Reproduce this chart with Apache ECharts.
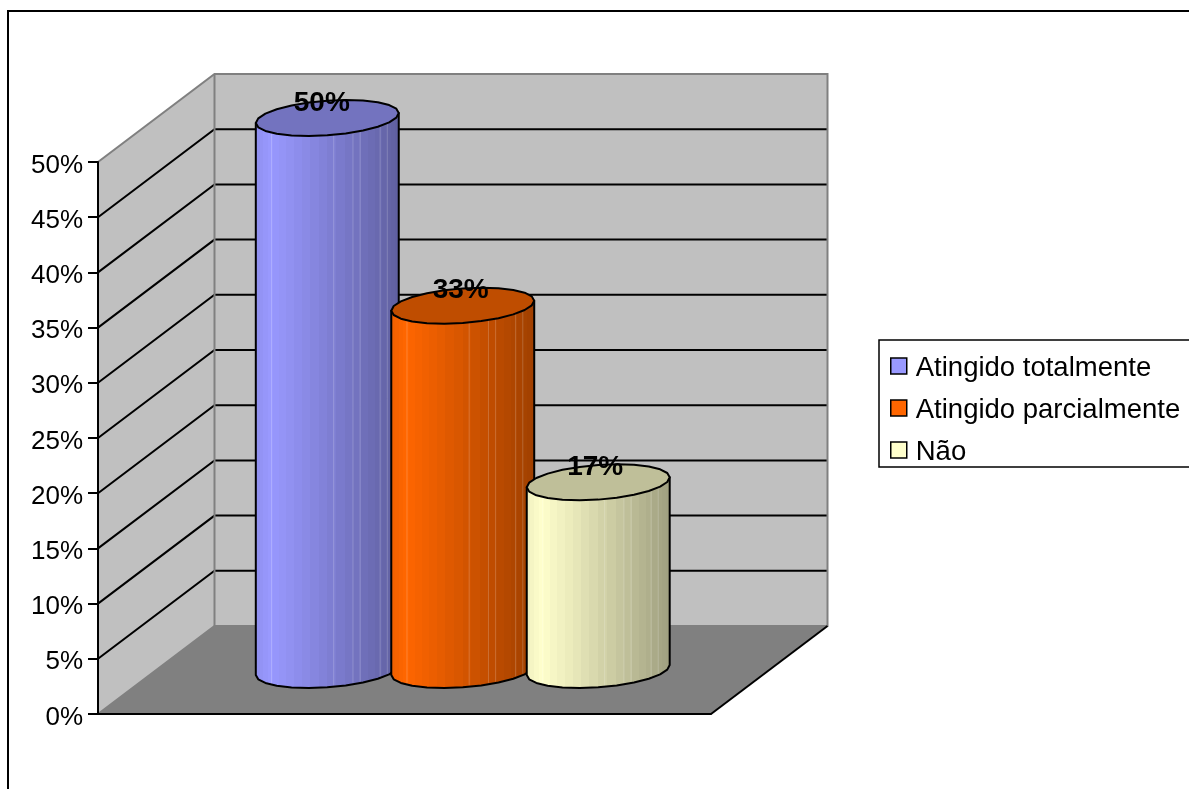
<!DOCTYPE html>
<html>
<head>
<meta charset="utf-8">
<style>
  html, body { margin: 0; padding: 0; background: #fff; overflow: hidden; }
  #chart { width: 1189px; height: 789px; }
</style>
<script src="https://cdn.jsdelivr.net/npm/echarts@6/dist/echarts.min.js"></script>
</head>
<body>
<div id="chart"></div>
<script>
// Chart values
const seriesNames = ['Atingido totalmente', 'Atingido parcialmente', 'Não'];
const seriesValues = [50, 33, 17];
const seriesColors = ['#9999FF', '#FF6600', '#FFFFCC'];
const axisMax = 50;
const axisStep = 5;
const gridValues = [5, 10, 15, 20, 25, 30, 35, 40, 45];
const categories = [''];

// Oblique projection of the 3D box, in pixels
const DEPTH_X = 116.5;
const DEPTH_Y = -88;
const MID_DEPTH_X = 58.25;
const MID_DEPTH_Y = -44;
const CAP_TILT = 5;
const CAP_HALF_HEIGHT = 17.3;
const BAR_SPACING = 0.221;   // share of the category band between bar centres
const BAR_RADIUS = 0.1166;   // share of the category band
const FACETS = 26;
const OUTLINE_STEPS = 12;    // the round edges are drawn as coarse polygons
const SEAMS = [0.11, 0.545, 0.68, 0.73, 0.87, 0.92];   // bright joins between wall facets
const LABEL_SHIFT = [-5.5, -2, -3];

const FONT = '"Liberation Sans", Arial, sans-serif';

function scaleColor(hex, k) {
  const n = parseInt(hex.slice(1), 16);
  const c = [(n >> 16) & 255, (n >> 8) & 255, n & 255].map(function (v) {
    return Math.round(v * k);
  });
  return 'rgb(' + c.join(',') + ')';
}

// Brightness across the cylinder, u = 0 at the left edge and 1 at the right
function shadeAt(u) {
  return u < 0.1 ? 0.93 + 0.7 * u : 1 - 0.38 * Math.pow((u - 0.1) / 0.9, 1.05);
}

// Hard-edged stops give the facets of the cylinder wall
function facetFill(color) {
  const stops = [];
  for (let i = 0; i < FACETS; i++) {
    const a0 = Math.PI * (1 - i / FACETS);
    const a1 = Math.PI * (1 - (i + 1) / FACETS);
    const u0 = (1 + Math.cos(a0)) / 2;
    const u1 = (1 + Math.cos(a1)) / 2;
    const c = scaleColor(color, shadeAt((u0 + u1) / 2));
    stops.push({ offset: u0, color: c }, { offset: u1, color: c });
  }
  return { type: 'linear', x: 0, y: 0, x2: 1, y2: 0, colorStops: stops };
}

function capPoint(cx, cy, a, t) {
  return [
    cx + a * Math.cos(t),
    cy - CAP_TILT * Math.cos(t) + CAP_HALF_HEIGHT * Math.sin(t)
  ];
}

function renderScene(params, api) {
  const origin = api.coord([0, 0]);
  const top = api.coord([0, axisMax]);
  const band = api.size([1, 0])[0];
  const x0 = origin[0] - band / 2;
  const x1 = origin[0] + band / 2;
  const y0 = origin[1];
  const y1 = top[1];
  const back = function (x, y) { return [x + DEPTH_X, y + DEPTH_Y]; };
  const children = [
    {
      type: 'polygon',
      shape: { points: [[x0, y1], back(x0, y1), back(x0, y0), [x0, y0]] },
      style: { fill: '#C0C0C0' }
    },
    {
      type: 'polygon',
      shape: { points: [back(x0, y1), back(x1, y1), back(x1, y0), back(x0, y0)] },
      style: { fill: '#C0C0C0' }
    },
    {
      type: 'polygon',
      shape: { points: [[x0, y0], [x1, y0], back(x1, y0), back(x0, y0)] },
      style: { fill: '#808080' }
    }
  ];
  gridValues.forEach(function (v) {
    const y = api.coord([0, v])[1];
    children.push({
      type: 'polyline',
      shape: { points: [[x0, y], back(x0, y), back(x1, y)] },
      style: { fill: null, stroke: '#000', lineWidth: 2 }
    });
  });
  children.push(
    {
      type: 'polyline',
      shape: { points: [[x0, y1], back(x0, y1), back(x1, y1), back(x1, y0), back(x0, y0), [x0, y0]] },
      style: { fill: null, stroke: '#808080', lineWidth: 2 }
    },
    {
      type: 'line',
      shape: { x1: back(x0, y1)[0], y1: back(x0, y1)[1], x2: back(x0, y0)[0], y2: back(x0, y0)[1] },
      style: { stroke: '#808080', lineWidth: 2 }
    },
    {
      type: 'line',
      shape: { x1: x1, y1: y0, x2: back(x1, y0)[0], y2: back(x1, y0)[1] },
      style: { stroke: '#000', lineWidth: 2 }
    }
  );
  return { type: 'group', children: children };
}

function makeCylinder(index) {
  return function (params, api) {
    const value = api.value(1);
    const color = seriesColors[index];
    const band = api.size([1, 0])[0];
    const foot = api.coord([0, 0]);
    const head = api.coord([0, value]);
    const cx = foot[0] + MID_DEPTH_X + (index - 1) * BAR_SPACING * band;
    const a = BAR_RADIUS * band;
    const yBase = foot[1] + MID_DEPTH_Y;
    const yTop = head[1] + MID_DEPTH_Y;

    const wall = [[cx - a, yTop + CAP_TILT]];
    for (let i = 0; i <= OUTLINE_STEPS; i++) {
      wall.push(capPoint(cx, yBase, a, Math.PI * (1 - i / OUTLINE_STEPS)));
    }
    wall.push([cx + a, yTop - CAP_TILT]);

    const cap = [];
    for (let i = 0; i < OUTLINE_STEPS * 2; i++) {
      cap.push(capPoint(cx, yTop, a, Math.PI * i / OUTLINE_STEPS));
    }

    const seams = SEAMS.map(function (u) {
      const t = Math.acos(2 * u - 1);
      const low = capPoint(cx, yBase, a, t);
      const high = capPoint(cx, yTop, a, t);
      return {
        type: 'line',
        shape: { x1: low[0], y1: low[1] - 1.5, x2: high[0], y2: high[1] },
        style: { stroke: 'rgba(255,255,255,0.2)', lineWidth: 1 }
      };
    });

    return {
      type: 'group',
      children: [
        {
          type: 'polygon',
          shape: { points: wall },
          style: { fill: facetFill(color), stroke: '#000', lineWidth: 2, lineJoin: 'round' }
        }
      ].concat(seams, [
        {
          type: 'polygon',
          shape: { points: cap },
          style: { fill: scaleColor(color, 0.75), stroke: '#000', lineWidth: 2, lineJoin: 'round' }
        },
        {
          type: 'text',
          x: cx + LABEL_SHIFT[index],
          y: yTop - 15,
          style: {
            text: value + '%',
            fill: '#000',
            font: 'bold 28px ' + FONT,
            align: 'center',
            verticalAlign: 'middle'
          }
        }
      ])
    };
  };
}

const sceneSeries = {
  type: 'custom',
  name: 'scene',
  silent: true,
  data: [[0, 0]],
  encode: { x: 0, y: 1 },
  renderItem: renderScene
};

const barSeries = seriesNames.map(function (name, i) {
  return {
    type: 'custom',
    name: name,
    data: [[0, seriesValues[i]]],
    encode: { x: 0, y: 1 },
    itemStyle: { color: seriesColors[i] },
    renderItem: makeCylinder(i)
  };
});

const chart = echarts.init(document.getElementById('chart'), null, { renderer: 'canvas' });
chart.setOption({
  animation: false,
  backgroundColor: '#fff',
  color: seriesColors,
  grid: { left: 98, right: 478, top: 162, bottom: 75 },
  xAxis: {
    type: 'category',
    data: categories,
    axisLine: { show: true, lineStyle: { color: '#000', width: 2 } },
    axisTick: { show: false },
    axisLabel: { show: false },
    splitLine: { show: false },
    z: 5
  },
  yAxis: {
    type: 'value',
    min: 0,
    max: axisMax,
    interval: axisStep,
    axisLine: { show: true, lineStyle: { color: '#000', width: 2 } },
    axisTick: { show: true, length: 10, lineStyle: { color: '#000', width: 2 } },
    axisLabel: {
      margin: 15,
      color: '#000',
      formatter: '{t|{value}%}',
      rich: {
        t: { color: '#000', fontFamily: FONT, fontSize: 26, padding: [7, 0, 0, 0] }
      }
    },
    splitLine: { show: false },
    z: 5
  },
  legend: {
    orient: 'vertical',
    left: 879,
    top: 340,
    data: seriesNames,
    icon: 'rect',
    itemWidth: 16,
    itemHeight: 16,
    itemGap: 14,
    padding: [14, 14, 1, 11],
    backgroundColor: '#fff',
    borderColor: '#000',
    borderWidth: 1.5,
    selectedMode: false,
    itemStyle: { borderColor: '#000', borderWidth: 1.5 },
    formatter: '{t|{name}}',
    textStyle: {
      color: '#000',
      rich: {
        t: { color: '#000', fontFamily: FONT, fontSize: 27.5, padding: [4, 0, 0, 4] }
      }
    }
  },
  graphic: [{
    type: 'polyline',
    shape: { points: [[8, 789], [8, 11], [1189, 11]] },
    style: { fill: null, stroke: '#000', lineWidth: 2 },
    silent: true,
    z: -1
  }],
  series: [sceneSeries].concat(barSeries)
});
</script>
</body>
</html>
